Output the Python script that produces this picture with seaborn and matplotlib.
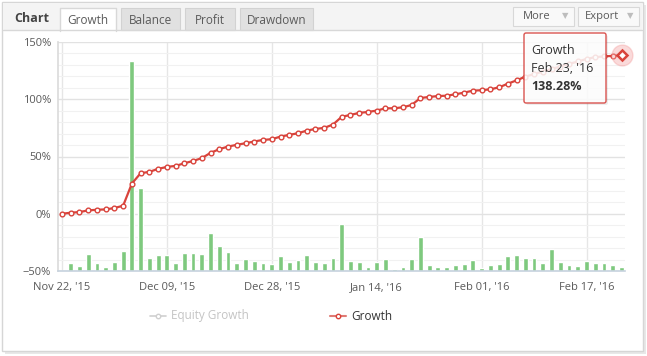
import numpy as np
import matplotlib
matplotlib.use("Agg")
import matplotlib.pyplot as plt
from matplotlib.patches import Rectangle, FancyBboxPatch
import seaborn as sns

# growth curve (%), one point per trading day, Nov 22 '15 -> Feb 23 '16
growth = [0.0, 0.9, 1.5, 2.9, 3.5, 3.8, 5.0, 7.0, 26.4, 35.4, 36.6, 39.2, 40.9, 41.8, 44.1, 46.1,
          48.6, 53.2, 56.4, 58.7, 60.2, 61.6, 63.1, 64.5, 65.1, 67.4, 68.9, 70.3, 72.6, 74.1, 75.0, 77.9,
          84.7, 86.3, 88.1, 88.9, 90.1, 92.1, 92.1, 93.0, 95.0, 101.1, 102.0, 102.8, 103.1, 104.3, 105.8, 107.5,
          107.9, 108.7, 110.4, 113.6, 116.5, 119.7, 122.0, 124.2, 126.4, 128.6, 130.8, 133.0, 135.2, 136.8,
          137.4, 137.9, 138.28]
# daily bars, height above the -50% baseline
daily = [0.0, 6.7, 4.1, 14.5, 6.7, 3.2, 7.5, 17.1, 183.0, 72.9, 11.0, 13.8, 13.8, 6.7, 15.6, 15.6,
         14.7, 33.0, 21.7, 16.4, 6.7, 10.2, 8.6, 6.7, 5.8, 12.8, 7.5, 9.3, 13.8, 7.5, 6.7, 11.5,
         41.1, 8.6, 7.5, 3.2, 7.5, 10.2, 1.5, 3.2, 10.2, 29.3, 5.0, 3.2, 3.2, 5.0, 5.8, 9.3,
         2.3, 5.0, 5.8, 12.8, 13.8, 11.0, 11.0, 6.7, 18.9, 7.5, 5.0, 4.1, 8.6, 6.7,
         6.7, 5.0, 3.2]
tick_labels = ["Nov 22, '15", "Dec 09, '15", "Dec 28, '15", "Jan 14, '16", "Feb 01, '16", "Feb 17, '16"]
tick_every = 12
y_ticks = [-50, 0, 50, 100, 150]
y_labels = ["\u221250%", "0%", "50%", "100%", "150%"]
tabs = ["Growth", "Balance", "Profit", "Drawdown"]

RED = "#d9433b"
GREEN = "#7ec97e"
TXT = "#5a5a5a"

sns.set_theme(style="white")
plt.rcParams["font.family"] = ["Open Sans", "DejaVu Sans"]

fig = plt.figure(figsize=(6.47, 3.56), dpi=100)
fig.patch.set_facecolor("white")

# background panel, header, tabs, legend (pixel coords)
bg = fig.add_axes([0, 0, 1, 1], zorder=0)
bg.set_xlim(0, 647)
bg.set_ylim(356, 0)
bg.axis("off")
bg.add_patch(Rectangle((5, 5), 641, 349, fc="#e8e8e8", ec="none"))
bg.add_patch(Rectangle((2, 2), 641, 349, fc="white", ec="#d6d6d6", lw=1))
bg.add_patch(Rectangle((3, 3), 639, 27, fc="#f4f4f4", ec="none"))
bg.plot([3, 642], [30, 30], color="#d8d8d8", lw=1)
bg.text(14, 18, "Chart", fontsize=9, fontweight="bold", color="#444444", va="center")

tab_x = [60, 121, 185, 240]
tab_w = [56, 59, 50, 73]
for i, (name, tx, tw) in enumerate(zip(tabs, tab_x, tab_w)):
    if i == 0:
        bg.add_patch(Rectangle((tx, 8), tw, 23, fc="white", ec="none"))
        bg.plot([tx, tx, tx + tw, tx + tw], [30.5, 8, 8, 30.5], color="#d8d8d8", lw=1)
    else:
        bg.add_patch(Rectangle((tx, 8), tw, 22, fc="#e1e1e1", ec="#d2d2d2", lw=0.8))
    bg.text(tx + tw / 2, 20, name, fontsize=8.5, color=TXT, ha="center", va="center")

for label, bx, bw in [("More", 513, 61), ("Export", 578, 61)]:
    bg.add_patch(Rectangle((bx, 7), bw, 19, fc="#f9f9f9", ec="#d8d8d8", lw=0.8))
    bg.text(bx + bw / 2 - 7, 16.5, label, fontsize=8, color=TXT, ha="center", va="center")
    bg.text(bx + bw - 9, 16.5, "\u25bc", fontsize=6, color="#bdbdbd", ha="center", va="center")

# legend
bg.plot([150, 166], [316, 316], color="#cfcfcf", lw=1.2)
bg.plot([158], [316], "o", ms=3.2, mfc="white", mec="#cfcfcf", mew=1)
bg.text(171, 316, "Equity Growth", fontsize=8.5, color="#c4c4c4", va="center")
bg.plot([330, 346], [316, 316], color="#e07a74", lw=1.5)
bg.plot([338], [316], "o", ms=3.2, mfc="white", mec=RED, mew=1)
bg.text(351, 316, "Growth", fontsize=8.5, color="#333333", va="center")

# main chart
ax = fig.add_axes([58 / 647, 1 - 271 / 356, (625 - 58) / 647, (271 - 42) / 356], zorder=2)
ax.set_facecolor("none")
x = np.arange(len(growth))

ax.bar(x, daily, bottom=-50, width=0.55, color=GREEN, zorder=2)
sns.lineplot(x=x, y=growth, ax=ax, color=RED, lw=1.6, marker="o", markersize=3.4,
             markerfacecolor="white", markeredgecolor=RED, markeredgewidth=1.0, zorder=3)

ax.set_xlim(-0.45, 64.4)
ax.set_ylim(-50, 150)
ax.set_yticks(y_ticks)
ax.set_yticklabels(y_labels)
ax.set_yticks(np.arange(-50, 151, 10), minor=True)
ax.set_xticks(np.arange(0, len(growth), tick_every)[:len(tick_labels)])
ax.set_xticklabels(tick_labels)
ax.grid(which="minor", axis="y", color="#f1f1f1", lw=0.8, zorder=0)
ax.grid(which="major", axis="y", color="#e2e2e2", lw=1, zorder=0)
ax.grid(which="major", axis="x", color="#e6e6e6", lw=1, zorder=0)
ax.tick_params(axis="both", which="both", length=0, labelsize=8, labelcolor=TXT)
ax.tick_params(axis="y", pad=5)
ax.tick_params(axis="x", pad=8)
for side in ["top", "right"]:
    ax.spines[side].set_visible(False)
ax.spines["left"].set_color("#dcdcdc")
ax.spines["bottom"].set_color("#c6d2de")
ax.spines["bottom"].set_linewidth(1.2)

# hovered last point
ax.plot(x[-1], growth[-1], "o", ms=15, color="#f4a3a3", alpha=0.4, zorder=4, clip_on=False)
ax.plot(x[-1], growth[-1], "D", ms=5, mfc="white", mec=RED, mew=1.8, zorder=5, clip_on=False)

# tooltip overlay
fg = fig.add_axes([0, 0, 1, 1], zorder=4)
fg.set_xlim(0, 647)
fg.set_ylim(356, 0)
fg.axis("off")
fg.patch.set_alpha(0)
fg.add_patch(FancyBboxPatch((526, 35), 82, 70, boxstyle="round,pad=0,rounding_size=2",
                            fc="black", ec="none", alpha=0.07))
fg.add_patch(FancyBboxPatch((524, 33), 82, 70, boxstyle="round,pad=0,rounding_size=2",
                            fc="white", ec="none", alpha=0.85))
fg.add_patch(FancyBboxPatch((524, 33), 82, 70, boxstyle="round,pad=0,rounding_size=2",
                            fc="none", ec="#d9534f", lw=1))
fg.text(531, 50, "Growth", fontsize=9, color="#333333", va="center")
fg.text(531, 68, "Feb 23, '16", fontsize=9, color="#333333", va="center")
fg.text(531, 86, "138.28%", fontsize=9, fontweight="bold", color="#333333", va="center")

fig.savefig("out.png", dpi=100)
